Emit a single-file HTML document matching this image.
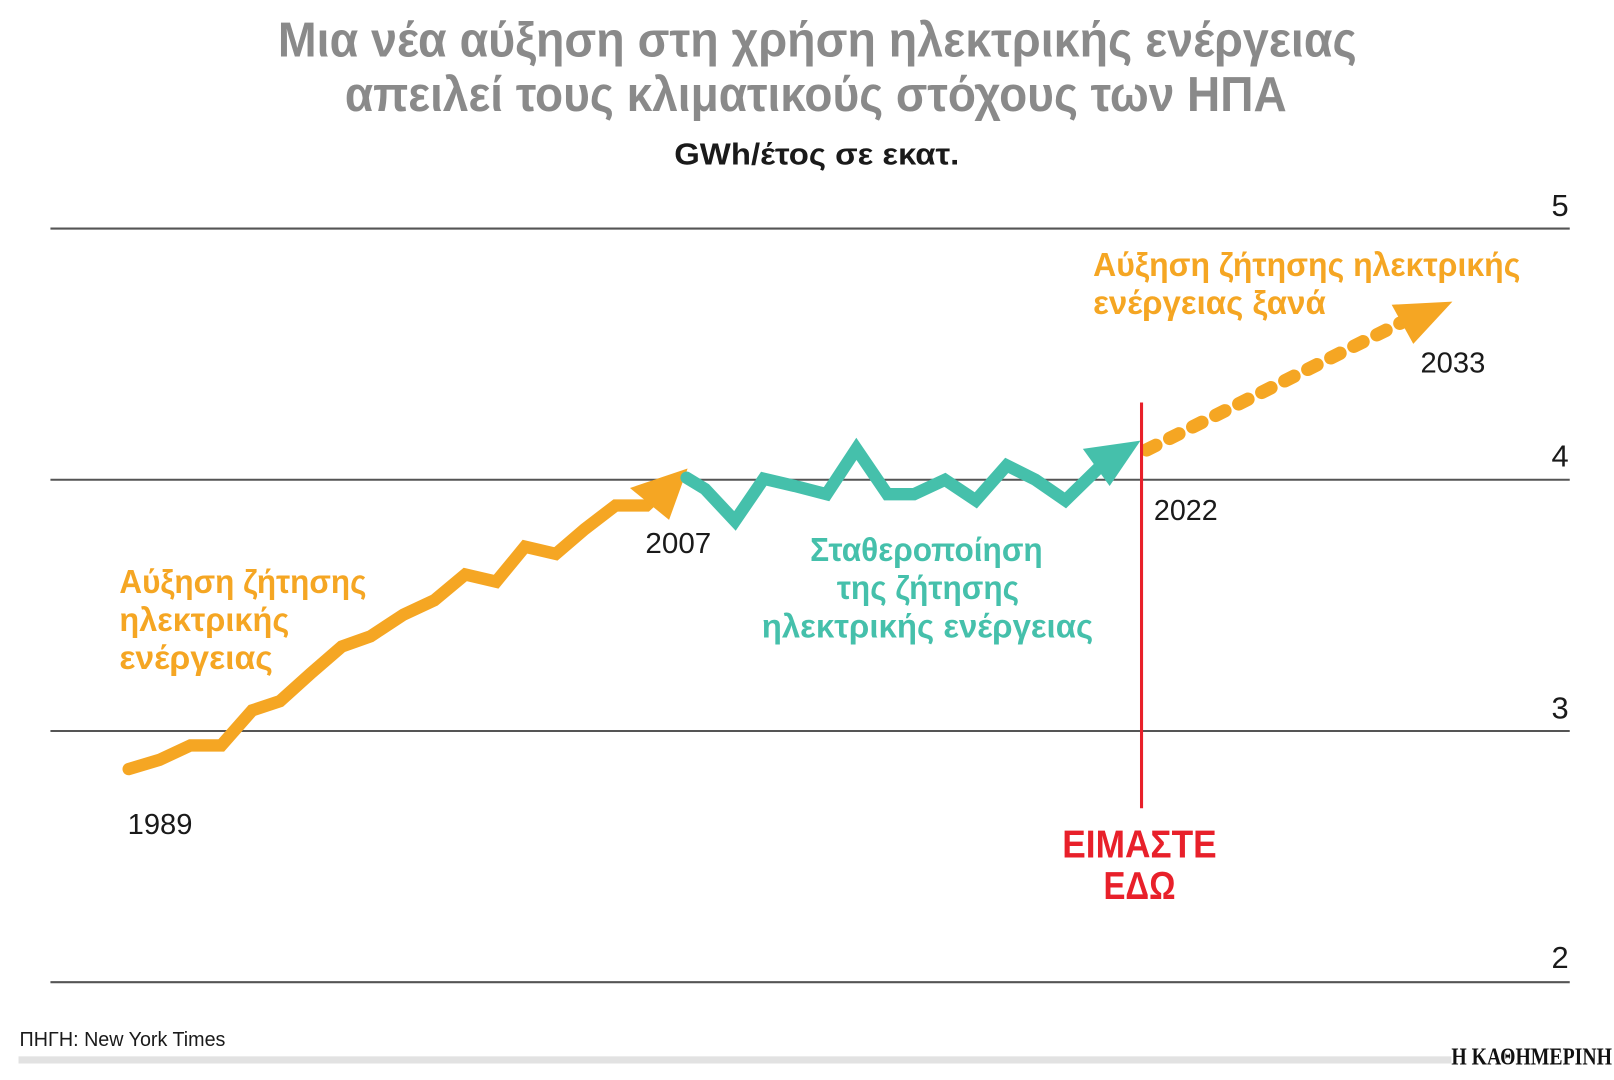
<!DOCTYPE html>
<html><head><meta charset="utf-8"><style>
html,body{margin:0;padding:0;background:#fff;}
svg{display:block;}
text{font-family:"Liberation Sans Narrow","Liberation Sans","DejaVu Sans Condensed",sans-serif;}
</style></head><body>
<svg width="1614" height="1080" viewBox="0 0 1568 1049" preserveAspectRatio="none" xmlns="http://www.w3.org/2000/svg">
<text x="270" y="55" font-size="48" font-weight="bold" fill="#8a8a8a" textLength="1048" lengthAdjust="spacingAndGlyphs">Μια νέα αύξηση στη χρήση ηλεκτρικής ενέργειας</text>
<text x="335" y="108" font-size="48" font-weight="bold" fill="#8a8a8a" textLength="915" lengthAdjust="spacingAndGlyphs">απειλεί τους κλιματικούς στόχους των ΗΠΑ</text>
<text x="655" y="160" font-size="30" font-weight="bold" fill="#1a1a1a" textLength="277" lengthAdjust="spacingAndGlyphs">GWh/έτος σε εκατ.</text>
<g stroke="#555" stroke-width="2">
<line x1="49" y1="222" x2="1525" y2="222"/>
<line x1="49" y1="466" x2="1525" y2="466"/>
<line x1="49" y1="710" x2="1525" y2="710"/>
<line x1="49" y1="954" x2="1525" y2="954"/>
</g>
<g font-size="30" fill="#1a1a1a">
<text x="1524" y="210" text-anchor="end">5</text>
<text x="1524" y="453" text-anchor="end">4</text>
<text x="1524" y="698" text-anchor="end">3</text>
<text x="1524" y="940" text-anchor="end">2</text>
</g>
<polyline fill="none" stroke="#f5a623" stroke-width="12" stroke-linecap="round" stroke-linejoin="miter" points="125,747 155,738 185,724 215,724 245,690 272,681 302,654 332,628 360,618 392,597 422,583 452,558 482,565 510,531 540,538 568,514 598,491 628,491 648,472"/>
<polygon fill="#f5a623" points="612,474 668,455 650,505"/>
<polyline fill="none" stroke="#45c0ab" stroke-width="12" stroke-linecap="round" stroke-linejoin="miter" points="667,464 685,475 714,506 742,465 772,472 803,480 832,436 862,480 888,480 918,466 948,486 978,452 1006,466 1035,486 1075,447"/>
<polygon fill="#45c0ab" points="1052,436 1108,428 1078,472"/>
<line x1="1114" y1="437" x2="1362" y2="313" stroke="#f5a623" stroke-width="13" stroke-linecap="round" stroke-dasharray="10,15"/>
<polygon fill="#f5a623" points="1352,296 1411,293 1373,334"/>
<line x1="1109" y1="391" x2="1109" y2="785" stroke="#e8202a" stroke-width="3"/>
<g font-size="28" fill="#1a1a1a">
<text x="627" y="537" textLength="64" lengthAdjust="spacingAndGlyphs">2007</text>
<text x="124" y="810" textLength="63" lengthAdjust="spacingAndGlyphs">1989</text>
<text x="1121" y="505" textLength="62" lengthAdjust="spacingAndGlyphs">2022</text>
<text x="1380" y="362" textLength="63" lengthAdjust="spacingAndGlyphs">2033</text>
</g>
<g font-size="32" font-weight="bold" fill="#f5a623">
<text x="116" y="576" textLength="240" lengthAdjust="spacingAndGlyphs">Αύξηση ζήτησης</text>
<text x="116" y="613" textLength="165" lengthAdjust="spacingAndGlyphs">ηλεκτρικής</text>
<text x="116" y="650" textLength="149" lengthAdjust="spacingAndGlyphs">ενέργειας</text>
<text x="1062" y="268" textLength="415" lengthAdjust="spacingAndGlyphs">Αύξηση ζήτησης ηλεκτρικής</text>
<text x="1062" y="305" textLength="226" lengthAdjust="spacingAndGlyphs">ενέργειας ξανά</text>
</g>
<g font-size="32" font-weight="bold" fill="#45c0ab">
<text x="787" y="545" textLength="226" lengthAdjust="spacingAndGlyphs">Σταθεροποίηση</text>
<text x="813" y="582" textLength="177" lengthAdjust="spacingAndGlyphs">της ζήτησης</text>
<text x="740" y="619" textLength="322" lengthAdjust="spacingAndGlyphs">ηλεκτρικής ενέργειας</text>
</g>
<g font-size="38" font-weight="bold" fill="#e8202a">
<text x="1032" y="833" textLength="150" lengthAdjust="spacingAndGlyphs">ΕΙΜΑΣΤΕ</text>
<text x="1072" y="873" textLength="70" lengthAdjust="spacingAndGlyphs">ΕΔΩ</text>
</g>
<text x="19" y="1016" font-size="20" fill="#1a1a1a" textLength="200" lengthAdjust="spacingAndGlyphs">ΠΗΓΗ: New York Times</text>
<rect x="18" y="1026" width="1392" height="7" fill="#e2e2e2"/>
<text x="1410" y="1034" font-size="24" font-weight="bold" fill="#111" style="font-family:'Liberation Serif',serif" textLength="156" lengthAdjust="spacingAndGlyphs">Η ΚΑΘΗΜΕΡΙΝΗ</text>
</svg>
</body></html>
